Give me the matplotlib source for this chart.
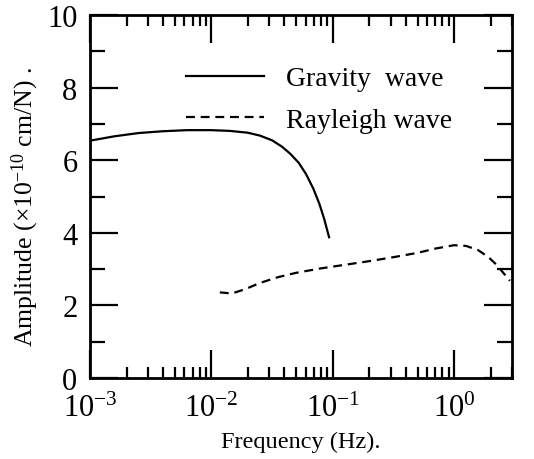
#振幅-频率曲线
import matplotlib.pyplot as plt
import numpy as np

plt.rcParams['font.family'] = ['Liberation Serif', 'DejaVu Serif']
plt.rcParams['mathtext.fontset'] = 'custom'
plt.rcParams['mathtext.rm'] = 'Liberation Serif'
plt.rcParams['mathtext.it'] = 'Liberation Serif:italic'

#数据 (log10 频率, 振幅)
gravity_logf = [-3.0, -2.8, -2.6, -2.4, -2.2, -2.0, -1.85, -1.7, -1.6, -1.5, -1.42,
                -1.35, -1.28, -1.22, -1.16, -1.11, -1.07, -1.03]
gravity_amp = [6.54, 6.66, 6.75, 6.80, 6.83, 6.83, 6.81, 6.76, 6.68, 6.55, 6.38,
               6.18, 5.93, 5.62, 5.22, 4.80, 4.38, 3.88]
rayleigh_logf = [-1.93, -1.83, -1.72, -1.6, -1.45, -1.3, -1.1, -0.9, -0.7, -0.5,
                 -0.3, -0.15, 0.0, 0.1, 0.2, 0.28, 0.35, 0.41, 0.46]
rayleigh_amp = [2.36, 2.33, 2.45, 2.62, 2.78, 2.9, 3.02, 3.12, 3.22, 3.33,
                3.45, 3.57, 3.66, 3.64, 3.52, 3.34, 3.12, 2.88, 2.68]
labels = ['Gravity  wave', 'Rayleigh wave']

gravity_f = 10 ** np.array(gravity_logf)
rayleigh_f = 10 ** np.array(rayleigh_logf)

fig = plt.figure(figsize=(5.34, 4.60), dpi=100)
ax = fig.add_axes([0.1685, 0.176, 0.7903, 0.789])

ax.plot(gravity_f, gravity_amp, color='black', lw=1.6, label=labels[0])
ax.plot(rayleigh_f, rayleigh_amp, color='black', lw=1.6, ls=(0, (4, 2.6)), label=labels[1])

ax.set_xscale('log')
ax.set_xlim(1e-3, 3)
ax.set_ylim(0, 10)
ax.set_yticks([0, 2, 4, 6, 8, 10])
ax.set_yticks([1, 3, 5, 7, 9], minor=True)
ax.set_xticks([1e-3, 1e-2, 1e-1, 1e0])

ax.tick_params(which='both', direction='in', top=True, right=True, width=1.6,
               labelsize=22, pad=4)
ax.tick_params(axis='y', which='major', length=20, pad=9)
ax.tick_params(axis='y', which='minor', length=11)
ax.tick_params(axis='x', which='major', length=20, pad=11)
ax.tick_params(axis='x', which='minor', length=8)
for s in ax.spines.values():
    s.set_linewidth(2)

ax.set_xlabel('Frequency (Hz).', fontsize=17.5, labelpad=6)
ax.set_ylabel(r'Amplitude ($\times$10$^{-10}$ cm/N) .', fontsize=18.5)
ax.yaxis.set_label_coords(-0.115, 0.475)

leg = ax.legend(loc='upper left', bbox_to_anchor=(0.2275, 0.86), frameon=False,
                fontsize=20, handlelength=2.8, handletextpad=0.8, labelspacing=0.57,
                borderpad=0, borderaxespad=0)

plt.savefig('out.png', dpi=100)
